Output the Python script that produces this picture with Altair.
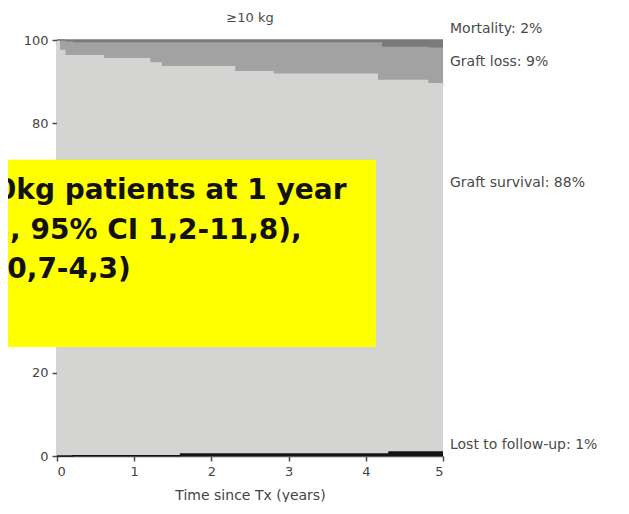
import altair as alt
import pandas as pd

# --- data -----------------------------------------------------------------
times = [0, 0.03, 0.1, 0.2, 0.6, 1.2, 1.35, 1.6, 2.3, 2.8, 4.15, 4.2, 4.3, 4.8, 5.0]
mortality = [0, 0, 0.5, 0.7, 0.7, 0.7, 0.7, 0.7, 0.7, 0.7, 0.7, 1.8, 1.8, 2.0, 2.0]
graft_loss = [0, 2.5, 3.3, 3.1, 3.8, 4.8, 5.7, 5.7, 6.9, 7.5, 9.0, 7.9, 7.9, 8.5, 9.0]
graft_survival = [100, 97.5, 96.2, 96.1, 95.4, 94.4, 93.5, 93.1, 91.9, 91.3, 89.8, 89.8, 89.3, 88.5, 88.0]
lost = [0, 0, 0, 0.1, 0.1, 0.1, 0.1, 0.5, 0.5, 0.5, 0.5, 0.5, 1.0, 1.0, 1.0]

series = ["Lost to follow-up", "Graft survival", "Graft loss", "Mortality"]
colors = ["#141414", "#d4d5d2", "#a2a2a2", "#7a7a7a"]
end_labels = ["Lost to follow-up: 1%", "Graft survival: 88%", "Graft loss: 9%", "Mortality: 2%"]
end_label_y = [2.6, 65.6, 94.7, 102.6]

title_text = "\u226510 kg"
title_pos = [2.5, 105.4]
x_title = "Time since Tx (years)"
x_ticks = [0, 1, 2, 3, 4, 5]
y_ticks = [0, 20, 80, 100]  # 40 and 60 are hidden under the yellow box

box_text = ["0kg patients at 1 year", "3, 95% CI 1,2-11,8),", "(0,7-4,3)"]
box_text_x = [-0.78, -0.86, -0.81]
box_text_y = [61.8, 52.2, 42.8]
box_x = [-0.74, 4.13]
box_y = [26.2, 71.2]

# --- tables ---------------------------------------------------------------
values = {
    "Lost to follow-up": lost,
    "Graft survival": graft_survival,
    "Graft loss": graft_loss,
    "Mortality": mortality,
}
rows = []
for order, name in enumerate(series):
    for t, v in zip(times, values[name]):
        rows.append({"t": t, "pct": v, "series": name, "order": order})
df = pd.DataFrame(rows)

lab_df = pd.DataFrame({"t": [5] * 4, "y": end_label_y, "text": end_labels})
title_df = pd.DataFrame({"t": [title_pos[0]], "y": [title_pos[1]], "text": [title_text]})
box_df = pd.DataFrame({"x": [box_x[0]], "x2": [box_x[1]], "y": [box_y[0]], "y2": [box_y[1]]})
txt_df = pd.DataFrame({"x": box_text_x, "y": box_text_y, "text": box_text})

xscale = alt.Scale(domain=[0, 5], nice=False, zero=False)
yscale = alt.Scale(domain=[0, 100], nice=False)

areas = alt.Chart(df).mark_area(
    interpolate="step-after",
    opacity=1,
    line={"color": "#626262", "strokeWidth": 1.4, "interpolate": "step-after"},
).encode(
    x=alt.X("t:Q", scale=xscale,
            axis=alt.Axis(values=x_ticks, title=x_title, format="d")),
    y=alt.Y("pct:Q", stack="zero", scale=yscale,
            axis=alt.Axis(values=y_ticks, title=None, format="d")),
    color=alt.Color("series:N", scale=alt.Scale(domain=series, range=colors), legend=None),
    order=alt.Order("order:Q", sort="ascending"),
)

labels = alt.Chart(lab_df).mark_text(
    align="left", baseline="middle", dx=7, font="DejaVu Sans", fontSize=14, color="#4a4a4a"
).encode(
    x=alt.X("t:Q", scale=xscale),
    y=alt.Y("y:Q", scale=yscale),
    text="text:N",
)

title = alt.Chart(title_df).mark_text(
    align="center", baseline="middle", font="DejaVu Sans", fontSize=13, color="#4a4a4a"
).encode(
    x=alt.X("t:Q", scale=xscale),
    y=alt.Y("y:Q", scale=yscale),
    text="text:N",
)

box = alt.Chart(box_df).mark_rect(color="#ffff00", opacity=1).encode(
    x=alt.X("x:Q", scale=xscale), x2="x2:Q",
    y=alt.Y("y:Q", scale=yscale), y2="y2:Q",
)

box_txt = alt.Chart(txt_df).mark_text(
    align="left", baseline="alphabetic", font="DejaVu Sans", fontWeight="bold",
    fontSize=28, color="#111111"
).encode(
    x=alt.X("x:Q", scale=xscale),
    y=alt.Y("y:Q", scale=yscale),
    text="text:N",
)

chart = alt.layer(areas, labels, title, box, box_txt).properties(
    width=386,
    height=416,
    autosize="none",
    padding={"left": 49, "top": 32, "right": 172, "bottom": 46},
).configure_view(stroke=None).configure_axis(
    domainColor="#5a5a5a",
    domainWidth=1.5,
    tickColor="#4a4a4a",
    tickWidth=1.5,
    tickSize=5,
    grid=False,
    labelFont="DejaVu Sans",
    labelFontSize=13,
    labelColor="#444444",
    titleFont="DejaVu Sans",
    titleFontSize=14,
    titleFontWeight="normal",
    titleColor="#444444",
).configure_axisX(labelPadding=4, titlePadding=10).configure_axisY(labelPadding=4)

chart.save("out.html", embed_options={"renderer": "svg", "actions": False})
